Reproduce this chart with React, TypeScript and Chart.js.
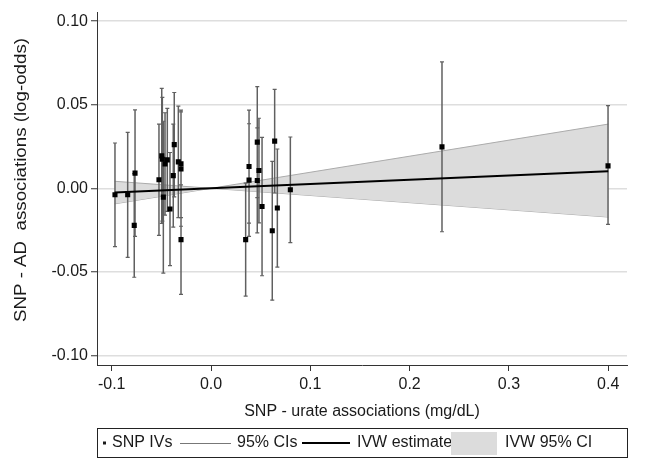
import React, { useEffect, useRef } from 'react';
import { Chart, registerables } from 'chart.js';

Chart.register(...registerables);

// SNP instrument associations (x: SNP-urate, y: SNP-AD) with 95% CI bounds
const snpX = [
  -0.0967, -0.0839, -0.0765, -0.0773, -0.0524, -0.0496, -0.049, -0.048, -0.0463, -0.044,
  -0.0413, -0.038, -0.037, -0.0329, -0.0302, -0.0302, -0.0302,
  0.0349, 0.0383, 0.0383, 0.0466, 0.0483, 0.0466, 0.0514, 0.0617, 0.0641, 0.0668, 0.0799,
  0.2326, 0.3998,
];
const snpY = [
  -0.0039, -0.0039, 0.0091, -0.0222, 0.0051, 0.0194, 0.0174, -0.0053, 0.0146, 0.017,
  -0.0124, 0.0076, 0.0261, 0.0158, 0.0146, 0.0115, -0.0307,
  -0.0307, 0.013, 0.0049, 0.0276, 0.0106, 0.0047, -0.0109, -0.0254, 0.0282, -0.0118, -0.0009,
  0.0248, 0.0134,
];
const snpLo = [
  -0.0349, -0.0413, -0.0287, -0.0532, -0.0282, -0.021, -0.0196, -0.0507, -0.016, -0.0138,
  -0.0462, -0.0232, -0.0051, -0.0176, -0.0176, -0.0227, -0.0635,
  -0.0645, -0.0208, -0.0288, -0.0056, -0.0207, -0.0267, -0.0523, -0.0669, -0.0028, -0.0471, -0.0325,
  -0.026, -0.0216,
];
const snpHi = [
  0.0271, 0.0335, 0.0469, 0.0088, 0.0384, 0.0598, 0.0544, 0.0401, 0.0452, 0.0478,
  0.0214, 0.0384, 0.0573, 0.0492, 0.0468, 0.0457, 0.0021,
  0.0031, 0.0468, 0.0386, 0.0608, 0.0419, 0.0361, 0.0305, 0.0161, 0.0592, 0.0235, 0.0307,
  0.0756, 0.0494,
];

// IVW estimate line and its 95% CI band
const ivwX = [-0.097, 0, 0.4];
const ivwY = [-0.0025, 0, 0.0102];
const ivwUpper = [0.0042, 0, 0.0384];
const ivwLower = [-0.0093, 0, -0.0172];

const xTicks = [-0.1, 0, 0.1, 0.2, 0.3, 0.4];
const yTicks = [-0.1, -0.05, 0, 0.05, 0.1];
const xTitle = 'SNP - urate associations (mg/dL)';
const yTitle = 'SNP - AD  associations (log-odds)';
const legendLabels = ['SNP IVs', '95% CIs', 'IVW estimate', 'IVW 95% CI'];

const FONT = '"Liberation Sans", Arial, sans-serif';
const TEXT = '#1a1a1a';

const yTitlePlugin = {
  id: 'yTitle',
  afterDraw(chart: any) {
    const ctx = chart.ctx as CanvasRenderingContext2D;
    ctx.save();
    ctx.font = `17px ${FONT}`;
    ctx.fillStyle = TEXT;
    ctx.textAlign = 'center';
    ctx.textBaseline = 'middle';
    const w = ctx.measureText(yTitle).width;
    const target = 284;
    ctx.translate(21, 180);
    ctx.rotate(-Math.PI / 2);
    ctx.scale(target / w, 1);
    ctx.fillText(yTitle, 0, 0);
    ctx.restore();
  },
};

const legendPlugin = {
  id: 'stataLegend',
  afterDraw(chart: any) {
    const ctx = chart.ctx as CanvasRenderingContext2D;
    ctx.save();
    ctx.strokeStyle = '#222';
    ctx.lineWidth = 1;
    ctx.strokeRect(97.5, 428.5, 530, 29);
    const cy = 443;
    ctx.font = `16px ${FONT}`;
    ctx.textBaseline = 'middle';
    ctx.fillStyle = TEXT;
    // SNP IVs
    ctx.fillRect(103, cy - 1.5, 3, 3);
    ctx.fillText(legendLabels[0], 112, cy);
    // 95% CIs
    ctx.strokeStyle = '#777';
    ctx.lineWidth = 1;
    ctx.beginPath();
    ctx.moveTo(180, cy + 0.5);
    ctx.lineTo(231, cy + 0.5);
    ctx.stroke();
    ctx.fillText(legendLabels[1], 237, cy);
    // IVW estimate
    ctx.strokeStyle = '#000';
    ctx.lineWidth = 2;
    ctx.beginPath();
    ctx.moveTo(302, cy);
    ctx.lineTo(350, cy);
    ctx.stroke();
    ctx.fillText(legendLabels[2], 357, cy);
    // IVW 95% CI
    ctx.fillStyle = '#dcdcdc';
    ctx.fillRect(451, 432, 46, 23);
    ctx.fillStyle = TEXT;
    ctx.fillText(legendLabels[3], 505, cy);
    ctx.restore();
  },
};

export default function App() {
  const ref = useRef<HTMLCanvasElement>(null);

  useEffect(() => {
    document.body.style.margin = '0';
    const errData: any[] = [];
    snpX.forEach((x, i) => {
      errData.push({ x, y: snpLo[i] }, { x, y: snpHi[i] }, { x, y: null });
    });
    const pts = snpX.map((x, i) => ({ x, y: snpY[i] }));
    const line = ivwX.map((x, i) => ({ x, y: ivwY[i] }));
    const lower = ivwX.map((x, i) => ({ x, y: ivwLower[i] }));
    const upper = ivwX.map((x, i) => ({ x, y: ivwUpper[i] }));

    const chart = new Chart(ref.current!, {
      type: 'scatter',
      data: {
        datasets: [
          {
            type: 'scatter',
            label: legendLabels[0],
            data: pts,
            pointStyle: 'rect',
            pointRadius: 3.6,
            backgroundColor: '#000',
            borderColor: '#000',
            borderWidth: 0,
            order: 0,
          } as any,
          {
            type: 'line',
            label: legendLabels[1],
            data: errData,
            showLine: true,
            spanGaps: false,
            borderColor: '#606060',
            borderWidth: 1.5,
            pointStyle: 'line',
            pointRadius: 2,
            pointBorderColor: '#606060',
            pointBorderWidth: 1.2,
            pointBackgroundColor: '#606060',
            fill: false,
            order: 2,
          } as any,
          {
            type: 'line',
            label: legendLabels[2],
            data: line,
            borderColor: '#000',
            borderWidth: 2,
            pointRadius: 0,
            fill: false,
            order: 1,
          } as any,
          {
            type: 'line',
            label: 'lower',
            data: lower,
            borderColor: '#ababab',
            borderWidth: 1,
            pointRadius: 0,
            fill: false,
            order: 4,
          } as any,
          {
            type: 'line',
            label: legendLabels[3],
            data: upper,
            borderColor: '#ababab',
            borderWidth: 1,
            pointRadius: 0,
            backgroundColor: '#dcdcdc',
            fill: '-1',
            order: 3,
          } as any,
        ],
      },
      options: {
        responsive: false,
        devicePixelRatio: 1,
        animation: false,
        events: [],
        layout: { padding: { left: 0, right: 20, top: 12, bottom: 0 } },
        plugins: { legend: { display: false }, tooltip: { enabled: false } },
        scales: {
          x: {
            type: 'linear',
            min: -0.1148,
            max: 0.4189,
            afterBuildTicks: (s: any) => {
              s.ticks = xTicks.map((v) => ({ value: v }));
            },
            afterFit: (s: any) => {
              s.height = 94;
            },
            ticks: {
              callback: (v: any) => Number(v).toFixed(1),
              font: { family: FONT, size: 16 },
              color: TEXT,
              padding: 4,
              maxRotation: 0,
              autoSkip: false,
            },
            grid: { drawOnChartArea: false, drawTicks: true, tickLength: 6, tickColor: '#333', tickWidth: 1 },
            border: { color: '#333', width: 1 },
            title: {
              display: true,
              text: xTitle,
              font: { family: FONT, size: 16 },
              color: TEXT,
              padding: { top: 0, bottom: 38 },
            },
          },
          y: {
            type: 'linear',
            min: -0.1057,
            max: 0.1051,
            afterBuildTicks: (s: any) => {
              s.ticks = yTicks.map((v) => ({ value: v }));
            },
            afterFit: (s: any) => {
              s.width = 97;
            },
            ticks: {
              callback: (v: any) => Number(v).toFixed(2),
              font: { family: FONT, size: 16 },
              color: TEXT,
              padding: 3,
              autoSkip: false,
            },
            grid: { color: '#dedede', lineWidth: 1.5, drawTicks: true, tickLength: 6, tickColor: '#333', tickWidth: 1 },
            border: { color: '#333', width: 1 },
            title: { display: false },
          },
        },
      } as any,
      plugins: [legendPlugin, yTitlePlugin],
    });
    return () => chart.destroy();
  }, []);

  return (
    <div style={{ width: 647, height: 459 }}>
      <canvas ref={ref} width={647} height={459} style={{ display: 'block' }} />
    </div>
  );
}
